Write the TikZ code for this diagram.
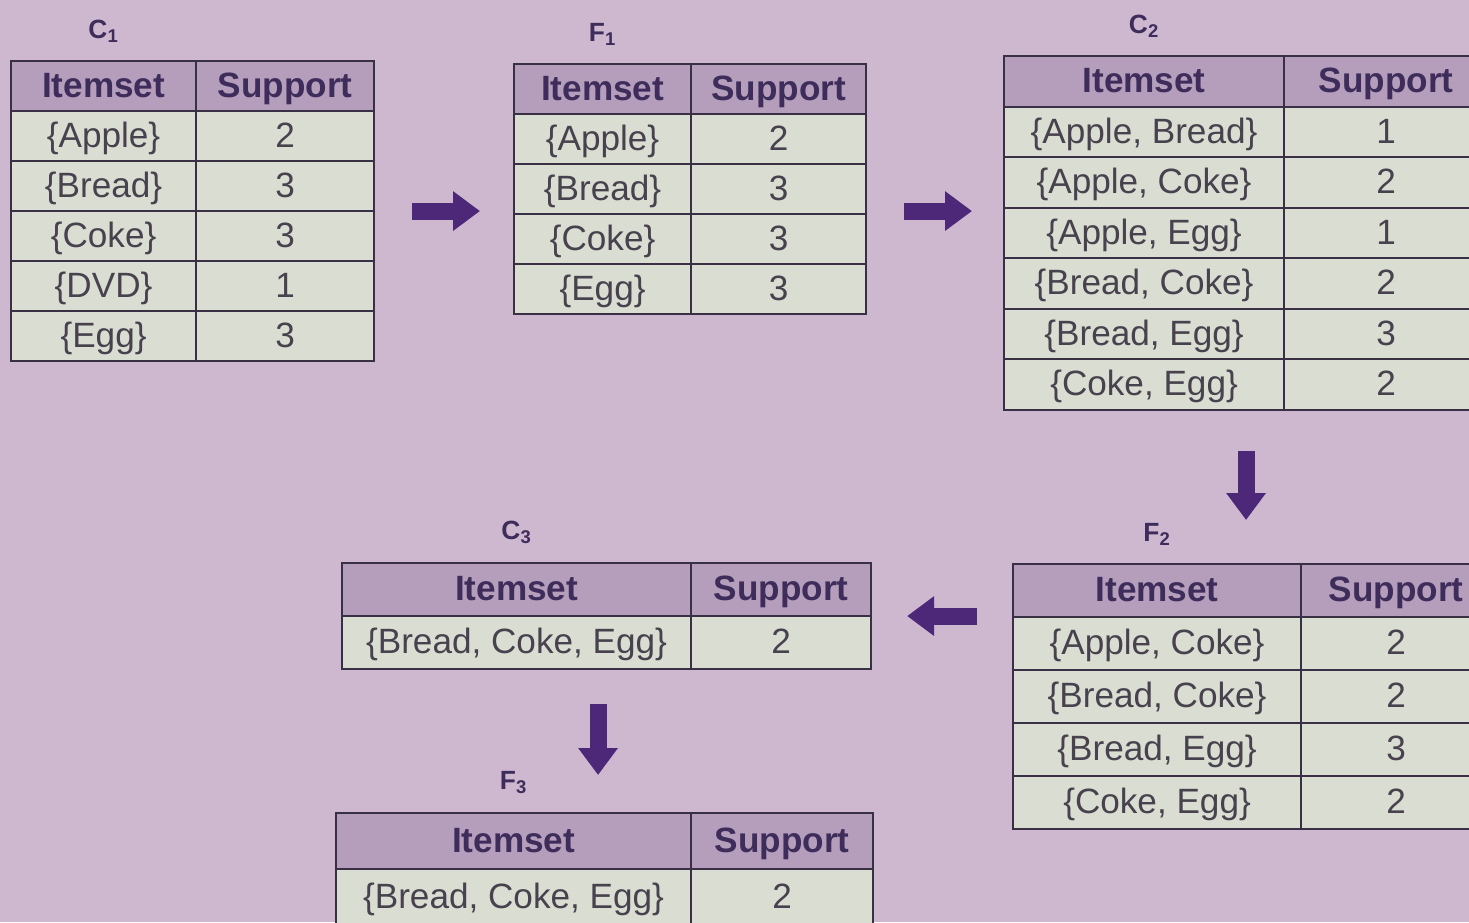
\documentclass[tikz,border=0pt]{standalone}
\usepackage{fontspec}
\setmainfont{Liberation Sans}
\usepackage{xcolor}
\usetikzlibrary{arrows.meta,positioning,matrix}
\definecolor{bgpurple}{RGB}{205,184,208}
\definecolor{headfill}{RGB}{180,158,188}
\definecolor{cellfill}{RGB}{218,222,210}
\definecolor{rulecol}{RGB}{58,48,70}
\definecolor{headtext}{RGB}{62,44,90}
\definecolor{celltext}{RGB}{72,66,78}
\definecolor{arrowcol}{RGB}{78,40,120}

\begin{document}
\begin{tikzpicture}[
    >=Latex,
    tbl/.style={matrix of nodes, anchor=north west, inner sep=0pt, outer sep=0pt,
        column sep=-1.2pt, row sep=-1.2pt,
        nodes={draw=rulecol, line width=1.2pt, fill=cellfill, text=celltext, inner sep=0pt,
            text height=16.5pt, text depth=3.5pt, anchor=center,
            font=\fontsize{20}{24}\selectfont},
        row 1/.style={nodes={fill=headfill, text=headtext, font=\fontsize{20}{24}\selectfont\bfseries}}},
    lbl/.style={font=\fontsize{15}{18}\selectfont\bfseries, text=headtext, inner sep=2pt},
    bigarrow/.style={draw=arrowcol, line width=0.34cm, -{Triangle[length=0.54cm,width=0.76cm]}}
]
\clip (0,-18.44) rectangle (29.38,0);
\fill[bgpurple] (0,-18.44) rectangle (29.38,0);

% candidate and frequent itemsets
\matrix (c1) [tbl, nodes={minimum height=1cm},
    column 1/.style={nodes={minimum width=3.7cm}},
    column 2/.style={nodes={minimum width=3.56cm}}] at (0.2,-1.2) {
    Itemset & Support \\
    \{Apple\} & 2 \\
    \{Bread\} & 3 \\
    \{Coke\} & 3 \\
    \{DVD\} & 1 \\
    \{Egg\} & 3 \\
};
\matrix (f1) [tbl, nodes={minimum height=1cm},
    column 1/.style={nodes={minimum width=3.54cm}},
    column 2/.style={nodes={minimum width=3.5cm}}] at (10.26,-1.26) {
    Itemset & Support \\
    \{Apple\} & 2 \\
    \{Bread\} & 3 \\
    \{Coke\} & 3 \\
    \{Egg\} & 3 \\
};
\matrix (c2) [tbl, nodes={minimum height=1.01cm},
    column 1/.style={nodes={minimum width=5.6cm}},
    column 2/.style={nodes={minimum width=4.08cm}}] at (20.06,-1.1) {
    Itemset & Support \\
    \{Apple, Bread\} & 1 \\
    \{Apple, Coke\} & 2 \\
    \{Apple, Egg\} & 1 \\
    \{Bread, Coke\} & 2 \\
    \{Bread, Egg\} & 3 \\
    \{Coke, Egg\} & 2 \\
};
\matrix (f2) [tbl, nodes={minimum height=1.06cm},
    column 1/.style={nodes={minimum width=5.76cm}},
    column 2/.style={nodes={minimum width=3.8cm}}] at (20.24,-11.26) {
    Itemset & Support \\
    \{Apple, Coke\} & 2 \\
    \{Bread, Coke\} & 2 \\
    \{Bread, Egg\} & 3 \\
    \{Coke, Egg\} & 2 \\
};
\matrix (c3) [tbl, nodes={minimum height=1.06cm},
    column 1/.style={nodes={minimum width=6.98cm}},
    column 2/.style={nodes={minimum width=3.6cm}}] at (6.82,-11.24) {
    Itemset & Support \\
    \{Bread, Coke, Egg\} & 2 \\
};
\matrix (f3) [tbl, nodes={minimum height=1.12cm},
    column 1/.style={nodes={minimum width=7.1cm}},
    column 2/.style={nodes={minimum width=3.64cm}}] at (6.7,-16.24) {
    Itemset & Support \\
    \{Bread, Coke, Egg\} & 2 \\
};

% table titles
\node[lbl, above=0.3cm of c1-1-1] (c1lbl) {C\textsubscript{1}};
\node[lbl, above=0.3cm of f1-1-1] (f1lbl) {F\textsubscript{1}};
\node[lbl, above=0.3cm of c2-1-1] (c2lbl) {C\textsubscript{2}};
\node[lbl, above=0.3cm of f2-1-1] (f2lbl) {F\textsubscript{2}};
\node[lbl, above=0.3cm of c3-1-1] (c3lbl) {C\textsubscript{3}};
\node[lbl, above=0.3cm of f3-1-1] (f3lbl) {F\textsubscript{3}};

% flow arrows
\draw[bigarrow] ([xshift=0.74cm]c1.east) -- ([xshift=-0.66cm]f1.west |- c1.east);
\draw[bigarrow] ([xshift=0.74cm]f1.east |- c1.east) -- ([xshift=-0.62cm]c2.west |- c1.east);
\draw[bigarrow] ([yshift=-0.8cm]c2.south) -- ([yshift=0.86cm]c2.south |- f2.north);
\draw[bigarrow] ([xshift=-0.7cm]f2.west |- c3.east) -- ([xshift=0.7cm]c3.east);
\draw[bigarrow] ([xshift=-0.17cm,yshift=-0.68cm]c3.south) -- ([xshift=-0.17cm,yshift=0.74cm]c3.south |- f3.north);
\end{tikzpicture}
\end{document}
